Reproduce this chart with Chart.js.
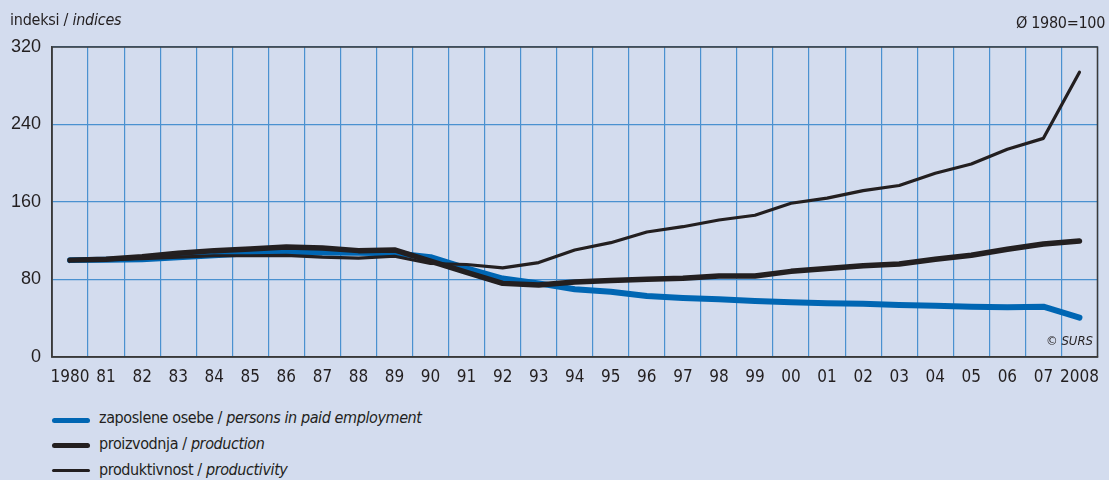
<!DOCTYPE html>
<html>
<head>
<meta charset="utf-8">
<script src="https://cdn.jsdelivr.net/npm/chart.js@4.4.1/dist/chart.umd.min.js"></script>
<style>
  body { margin: 0; background: #d3dcee; width: 1109px; height: 480px; overflow: hidden; position: relative;
         font-family: 'Liberation Sans Narrow', 'DejaVu Sans Condensed', 'Liberation Sans', sans-serif; color: #231f20; }
  #wrap { position: absolute; left: 0; top: 0; width: 1109px; height: 400px; }
  .txt { position: absolute; white-space: nowrap; }
  #unit { left: 10px; top: 10px; font-size: 16px; letter-spacing: -0.25px; }
  #base { right: 4px; top: 13px; font-size: 16px; letter-spacing: -0.3px; }
  #src { left: 1046px; top: 333px; font-size: 13px; font-style: italic; }
  .leg { position: absolute; left: 52px; height: 20px; }
  .leg .sw { position: absolute; left: 0; width: 38px; border-radius: 3px; }
  .leg span { position: absolute; left: 47px; top: -1px; font-size: 16px; letter-spacing: -0.4px; white-space: nowrap; }
</style>
</head>
<body>
<div id="wrap"><canvas id="chart"></canvas></div>
<div class="txt" id="unit">indeksi / <i>indices</i></div>
<div class="txt" id="base">Ø 1980=100</div>
<div class="txt" id="src">© SURS</div>
<div class="leg" style="top:409px"><div class="sw" style="top:9px;height:5px;background:#0066b3"></div><span>zaposlene osebe / <i>persons in paid employment</i></span></div>
<div class="leg" style="top:435px"><div class="sw" style="top:8px;height:5px;background:#231f20"></div><span>proizvodnja / <i>production</i></span></div>
<div class="leg" style="top:461px"><div class="sw" style="top:8px;height:3px;background:#231f20"></div><span>produktivnost / <i>productivity</i></span></div>
<script>
const years = ['1980', '81', '82', '83', '84', '85', '86', '87', '88', '89', '90', '91', '92', '93', '94',
    '95', '96', '97', '98', '99', '00', '01', '02', '03', '04', '05', '06', '07', '2008'];

const employment = [100, 100.5, 101, 103, 105, 107, 108, 108, 107.5, 107, 103, 91.5, 81, 76, 70,
    67.4, 63, 60.9, 59.6, 57.8, 56.5, 55.5, 55, 53.7, 53, 51.9, 51.3, 51.9, 40.6];

const production = [100, 101, 103.5, 107, 109.8, 111.5, 113.5, 112.5, 109.8, 110.5, 99, 87.4, 76, 74.3, 77.5,
    79, 80.2, 81.2, 83.6, 83.6, 88.4, 91.3, 94.3, 96, 100.8, 105, 111.2, 116.6, 119.7];

const productivity = [100, 100.5, 101.5, 103, 104.5, 104.5, 105, 103, 102, 104, 96.5, 95.5, 92, 97.5, 110.5,
    118, 129, 134.5, 141.4, 146.3, 158.7, 164, 171.7, 177, 189.6, 199.2, 214.4, 225.7, 294];

const yTicks = [0, 80, 160, 240, 320];

const gridBlue = '#4a91d0';
const dark = '#231f20';

// dark frame round the plot area
const framePlugin = {
    id: 'frame',
    beforeDatasetsDraw(chart) {
        const a = chart.chartArea;
        const ctx = chart.ctx;
        ctx.save();
        ctx.strokeStyle = '#3a3a3a';
        ctx.lineWidth = 1.5;
        ctx.strokeRect(a.left, a.top, a.right - a.left, a.bottom - a.top);
        ctx.restore();
    }
};

const ctx = document.getElementById('chart').getContext('2d');

new Chart(ctx, {
    type: 'line',
    data: {
        labels: years,
        datasets: [
            { label: 'zaposlene osebe', data: employment, borderColor: '#0066b3', borderWidth: 6, order: 3 },
            { label: 'proizvodnja', data: production, borderColor: dark, borderWidth: 5.5, order: 2 },
            { label: 'produktivnost', data: productivity, borderColor: dark, borderWidth: 3.2, order: 1 }
        ]
    },
    options: {
        responsive: true,
        maintainAspectRatio: false,
        animation: false,
        layout: { padding: { top: 47, right: 5, left: 0, bottom: 0 } },
        elements: {
            point: { radius: 0 },
            line: { tension: 0, borderCapStyle: 'round', borderJoinStyle: 'round' }
        },
        plugins: { legend: { display: false }, tooltip: { enabled: false } },
        scales: {
            x: {
                type: 'category',
                offset: true,
                grid: { offset: true, color: gridBlue, lineWidth: 1.2, drawTicks: false },
                border: { color: '#3a3a3a', width: 1.5 },
                ticks: {
                    autoSkip: false, maxRotation: 0, padding: 10, color: dark,
                    font: { family: "'Liberation Sans Narrow', 'DejaVu Sans Condensed', sans-serif", size: 17 }
                },
                afterFit(scale) { scale.height = 43; }
            },
            y: {
                min: 0,
                max: 320,
                afterBuildTicks(scale) { scale.ticks = yTicks.map(v => ({ value: v })); },
                grid: { color: gridBlue, lineWidth: 1.2, drawTicks: false },
                border: { color: '#3a3a3a', width: 1.5 },
                ticks: {
                    padding: 11, color: dark,
                    font: { family: "'Liberation Sans', sans-serif", size: 18 }
                },
                afterFit(scale) { scale.width = 52; }
            }
        }
    },
    plugins: [framePlugin]
});
</script>
</body>
</html>
